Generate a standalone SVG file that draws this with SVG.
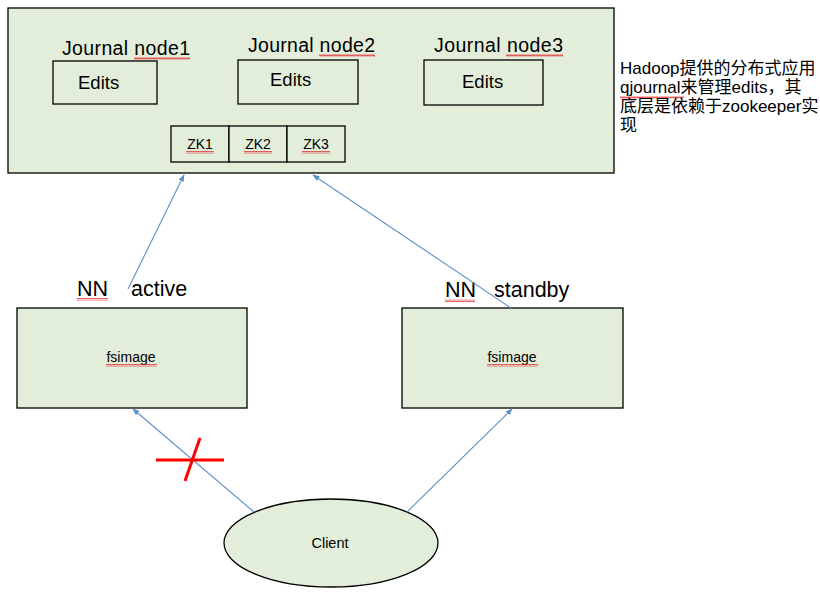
<svg xmlns="http://www.w3.org/2000/svg" width="820" height="597" viewBox="0 0 820 597">
<defs>
<style>
.box{fill:#E3EEDA;stroke:#000;stroke-width:1.3}
.t{font-family:"Liberation Sans",Arial,sans-serif;fill:#000}
.cjk{font-family:"Liberation Sans","Noto Sans CJK SC",sans-serif;fill:#000}
.conn{stroke:#5B8FC9;stroke-width:1.1;fill:none;marker-end:url(#ah)}
.sq{fill:url(#wave)}
</style>
<marker id="ah" viewBox="0 0 10 10" refX="9" refY="5" markerWidth="7" markerHeight="7" orient="auto" markerUnits="userSpaceOnUse">
<path d="M0,1 L10,5 L0,9 z" fill="#5B8FC9"/>
</marker>
<pattern id="wave" width="4" height="3" patternUnits="userSpaceOnUse">
<path d="M0,2.5 L1,0.5 L2,2.5 L3,0.5 L4,2.5" stroke="#E02020" stroke-width="0.7" fill="none"/>
</pattern>
</defs>
<rect width="820" height="597" fill="#fff"/>

<g id="journal-cluster">
<rect class="box" x="8" y="8" width="606" height="165"/>
</g>

<g id="jn1">
<text class="t" x="62" y="55" font-size="19.5" textLength="128">Journal node1</text>
<rect class="sq" x="134" y="57" width="56" height="3"/>
<rect class="box" x="53" y="61" width="104" height="43"/>
<text class="t" x="78" y="89" font-size="18.5">Edits</text>
</g>

<g id="jn2">
<text class="t" x="248" y="52" font-size="19.5" textLength="127">Journal node2</text>
<rect class="sq" x="319" y="54" width="56" height="3"/>
<rect class="box" x="238" y="60" width="120" height="44"/>
<text class="t" x="270" y="86" font-size="18.5">Edits</text>
</g>

<g id="jn3">
<text class="t" x="434" y="52" font-size="19.5" textLength="129">Journal node3</text>
<rect class="sq" x="506" y="54" width="57" height="3"/>
<rect class="box" x="424" y="60" width="119" height="45"/>
<text class="t" x="462" y="88" font-size="18.5">Edits</text>
</g>

<g id="zk">
<rect class="box" x="171" y="126" width="58" height="36"/>
<rect class="box" x="229" y="126" width="58" height="36"/>
<rect class="box" x="287" y="126" width="58" height="36"/>
<text class="t" x="200" y="149" font-size="14" text-anchor="middle">ZK1</text>
<text class="t" x="258" y="149" font-size="14" text-anchor="middle">ZK2</text>
<text class="t" x="316" y="149" font-size="14" text-anchor="middle">ZK3</text>
<rect class="sq" x="186" y="151" width="28" height="3"/>
<rect class="sq" x="244" y="151" width="28" height="3"/>
<rect class="sq" x="302" y="151" width="28" height="3"/>
</g>

<g id="note">
<text class="cjk" x="620" y="74" font-size="17">Hadoop提供的分布式应用</text>
<text class="cjk" x="620" y="93" font-size="17">qjournal来管理edits，其</text>
<rect class="sq" x="620" y="96" width="64" height="3"/>
<text class="cjk" x="620" y="112" font-size="17">底层是依赖于zookeeper实</text>
<text class="cjk" x="620" y="131" font-size="17">现</text>
</g>

<g id="nn-active">
<text class="t" x="77" y="296" font-size="21.5">NN</text>
<rect class="sq" x="77" y="298" width="31" height="3"/>
<text class="t" x="131" y="296" font-size="21.5">active</text>
<rect class="box" x="17" y="308" width="230" height="100"/>
<text class="t" x="131" y="362" font-size="14" text-anchor="middle">fsimage</text>
<rect class="sq" x="106" y="364" width="51" height="3"/>
</g>

<g id="nn-standby">
<text class="t" x="445" y="297" font-size="21.5">NN</text>
<rect class="sq" x="445" y="299" width="30" height="3"/>
<text class="t" x="494" y="297" font-size="21.5">standby</text>
<rect class="box" x="402" y="308" width="221" height="100"/>
<text class="t" x="512" y="362" font-size="14" text-anchor="middle">fsimage</text>
<rect class="sq" x="487" y="364" width="51" height="3"/>
</g>

<g id="client">
<ellipse class="box" cx="331" cy="543" rx="107" ry="44"/>
<text class="t" x="330" y="548" font-size="14.5" text-anchor="middle">Client</text>
</g>

<g id="connectors">
<line class="conn" x1="128" y1="289" x2="184" y2="175"/>
<line class="conn" x1="511" y1="308" x2="313" y2="175"/>
<line class="conn" x1="254" y1="512" x2="133" y2="409"/>
<line class="conn" x1="407" y1="512" x2="512" y2="409"/>
<g stroke="#FF0000" stroke-width="3">
<line x1="156" y1="460" x2="224" y2="460"/>
<line x1="200" y1="438" x2="185" y2="481"/>
</g>
</g>
</svg>
